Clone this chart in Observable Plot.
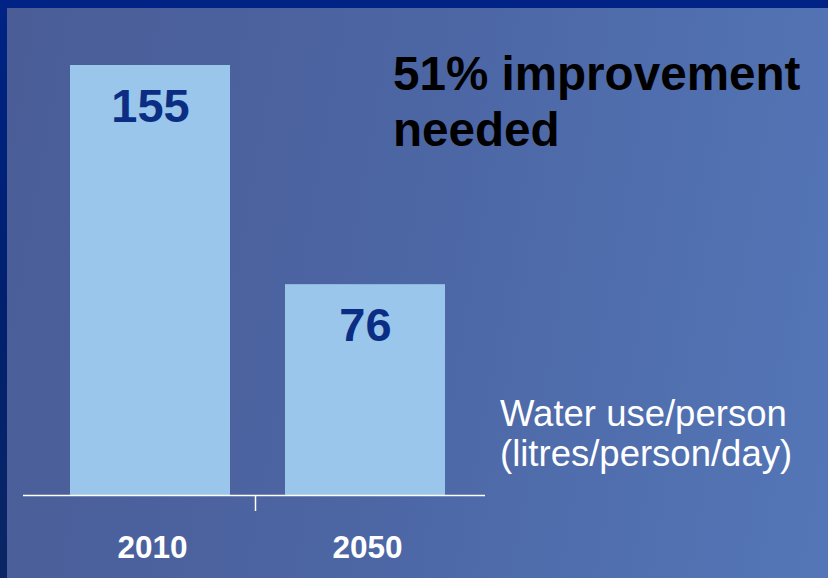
<!DOCTYPE html>
<html>
<head>
<meta charset="utf-8">
<script src="https://cdn.jsdelivr.net/npm/d3@7"></script>
<script src="https://cdn.jsdelivr.net/npm/@observablehq/plot@0.6"></script>
<style>
  html, body { margin: 0; padding: 0; }
  body { width: 828px; height: 578px; overflow: hidden; font-family: "Liberation Sans", Arial, sans-serif; }
  #frame { position: relative; width: 828px; height: 578px; background: linear-gradient(180deg, #002385 0%, #00206f 50%, #0a2664 100%); }
  #panel { position: absolute; left: 7px; top: 8px; right: 0; bottom: 0;
    background: linear-gradient(100deg, #4a5d97 0%, #4c65a3 45%, #5170b0 80%, #5476b7 100%); }
  #chart { position: absolute; left: 0; top: 0; }
  .note { position: absolute; white-space: nowrap; }
  #headline { left: 393px; top: 46px; font-size: 47.6px; line-height: 56px; font-weight: bold; color: #000; }
  #unit { left: 500px; top: 394px; font-size: 36.5px; line-height: 40px; color: #fff; }
</style>
</head>
<body>
<div id="frame">
  <div id="panel"></div>
  <div id="chart"></div>
  <div class="note" id="headline">51% improvement<br>needed</div>
  <div class="note" id="unit">Water use/person<br>(litres/person/day)</div>
</div>
<script>
const years = ["2010", "2050"];
const values = [155, 76];

const data = years.map((year, i) => ({year, value: values[i]}));

const chart = Plot.plot({
  width: 828,
  height: 578,
  marginTop: 65,
  marginBottom: 83,
  marginLeft: 23,
  marginRight: 343,
  style: {background: "transparent", fontFamily: "Liberation Sans, Arial, sans-serif", overflow: "visible"},
  x: {type: "band", domain: years, range: [42.5, 472.5], paddingInner: 0.256, paddingOuter: 0.128, axis: null},
  y: {domain: [0, 155], axis: null},
  marks: [
    Plot.barY(data, {x: "year", y: "value", fill: "#99c6ea"}),
    Plot.ruleY([0], {stroke: "white", strokeWidth: 1.5}),
    Plot.ruleX([years[0]], {x: d => d, y1: 0, y2: 0, dx: 105, insetBottom: -16, stroke: "white", strokeWidth: 1.5}),
    Plot.text(data, {x: "year", y: "value", text: d => String(d.value), lineAnchor: "top", dy: 23,
      fill: "#0b2e84", fontSize: 47, fontWeight: "bold"}),
    Plot.axisX({tickSize: 0, tickPadding: 40, fontSize: 31.5, fontWeight: "bold", fill: "white", dx: 2, label: null})
  ]
});
document.getElementById("chart").appendChild(chart);
</script>
</body>
</html>
